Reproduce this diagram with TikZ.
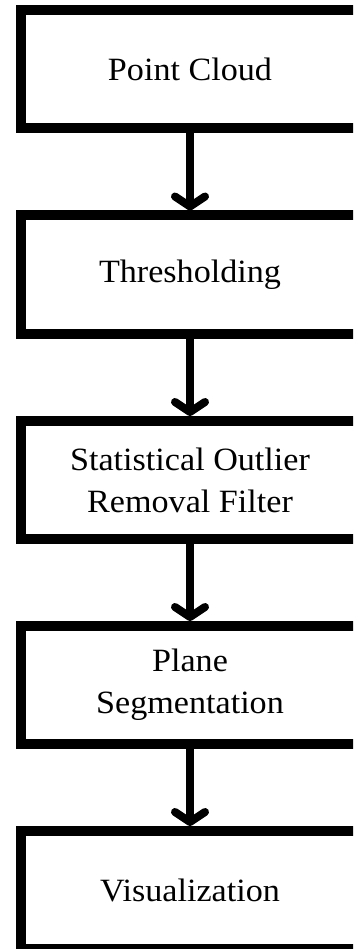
\documentclass[tikz,border=0pt]{standalone}
\usepackage{fontspec}
\setmainfont{Liberation Serif}
\usetikzlibrary{arrows.meta}
\newcommand\widetext[1]{\scalebox{1.05}[1]{#1}}
\begin{document}
\begin{tikzpicture}[x=1pt,y=-1pt,
  stepbox/.style={draw=black, line width=10pt, minimum width=338pt, minimum height=118pt,
    inner sep=0pt, align=center, font=\fontsize{32.5}{42}\selectfont},
  flow/.style={line width=8pt, -{Straight Barb[length=10pt, width=30pt, round]}}]
\useasboundingbox (0,0) rectangle (353,949);
\clip (0,0) rectangle (353,949);
\node[stepbox] (n1) at (190,69) {\widetext{Point Cloud}};
\node[stepbox] (n2) at (190,274.5) {\widetext{Thresholding}};
\node[stepbox] (n3) at (190,480) {\widetext{Statistical Outlier}\\\widetext{Removal Filter}};
\node[stepbox] (n4) at (190,685) {\widetext{Plane}\\\widetext{Segmentation}};
\node[stepbox] (n5) at (190,890) {\widetext{Visualization}};
\draw[flow] (n1.south) -- (n2.north);
\draw[flow] (n2.south) -- (n3.north);
\draw[flow] (n3.south) -- (n4.north);
\draw[flow] (n4.south) -- (n5.north);
\end{tikzpicture}
\end{document}
